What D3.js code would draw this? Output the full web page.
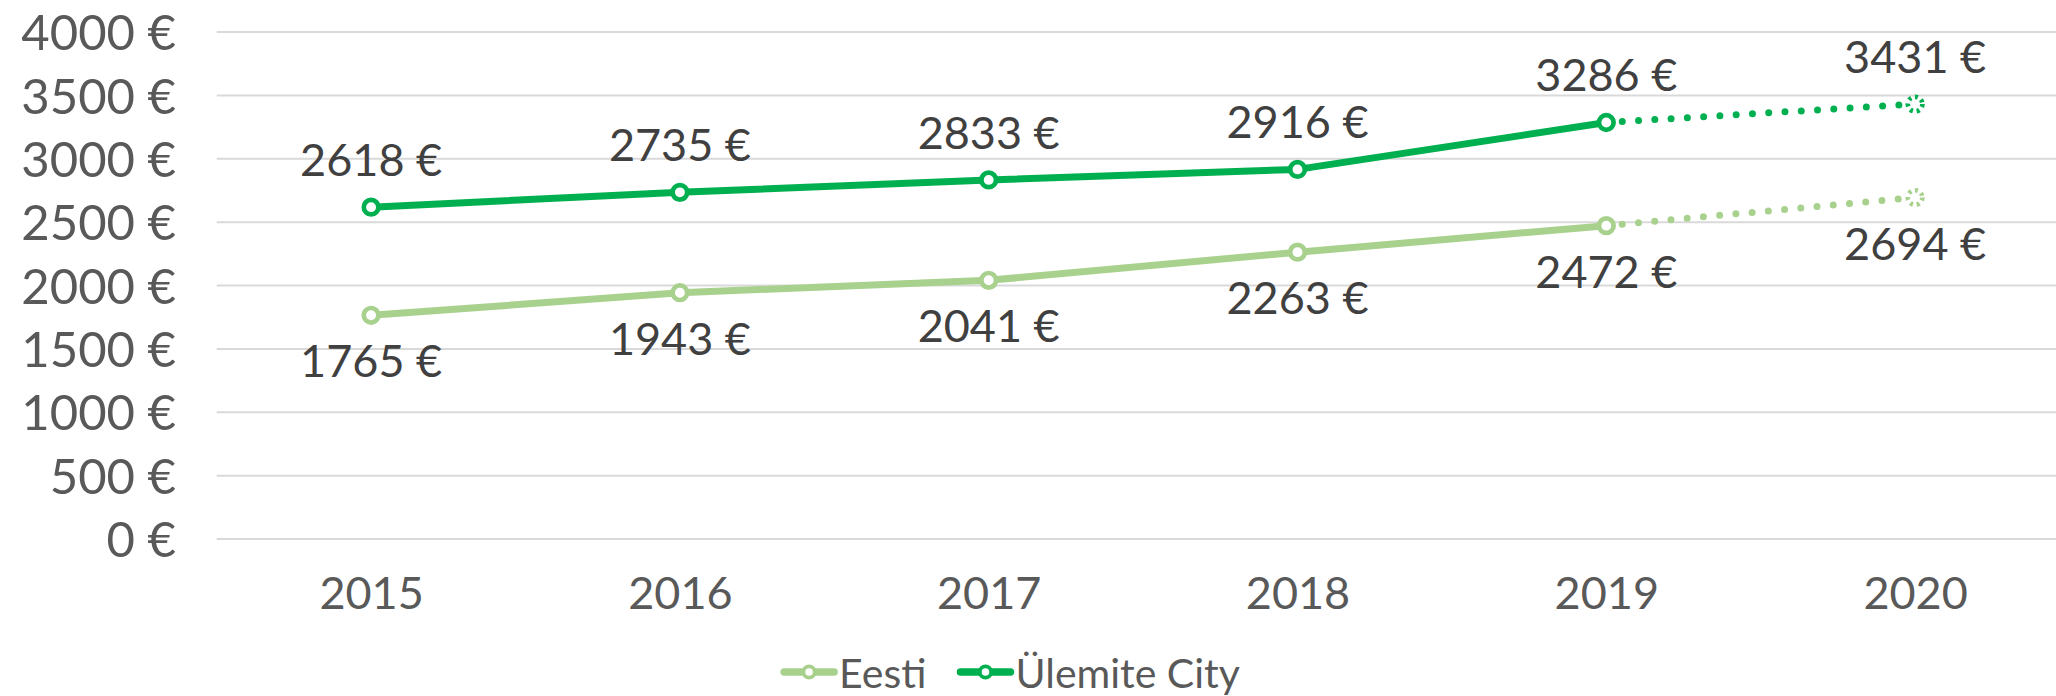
<!DOCTYPE html>
<html>
<head>
<meta charset="utf-8">
<script src="https://cdn.jsdelivr.net/npm/d3@7"></script>
<style>
  body { margin: 0; background: #fff; }
  svg { display: block; }
  text { font-family: Lato, "Noto Sans", sans-serif; }
</style>
</head>
<body>
<svg id="chart" width="2056" height="696"></svg>
<script>
// Average monthly gross wage, actual (2015–2019) and forecast (2020)
const years = ["2015", "2016", "2017", "2018", "2019", "2020"];
const eestiValues = [1765, 1943, 2041, 2263, 2472, 2694];
const ulemiteValues = [2618, 2735, 2833, 2916, 3286, 3431];
const yTickValues = [0, 500, 1000, 1500, 2000, 2500, 3000, 3500, 4000];
const seriesNames = ["Eesti", "Ülemite City"];
const seriesColors = ["#A9D18E", "#00B050"];
const forecastFrom = "2019"; // last actual year; later points are dotted

const series = [
  { name: seriesNames[0], values: eestiValues, color: seriesColors[0], labelPos: "below" },
  { name: seriesNames[1], values: ulemiteValues, color: seriesColors[1], labelPos: "above" }
];

const svg = d3.select("#chart");
const fmt = v => v + " €";

const x = d3.scalePoint().domain(years).range([216.7, 2069.5]).padding(0.5);
const y = d3.scaleLinear().domain([0, 4000]).range([539, 32]);

// Horizontal gridlines
svg.append("g")
  .selectAll("line")
  .data(yTickValues)
  .join("line")
  .attr("x1", 216.7).attr("x2", 2069.5)
  .attr("y1", d => y(d)).attr("y2", d => y(d))
  .attr("stroke", "#D9D9D9").attr("stroke-width", 2);

// Y axis labels
const yAxis = svg.append("g")
  .attr("transform", "translate(176,0)")
  .call(d3.axisLeft(y).tickValues(yTickValues).tickFormat(fmt).tickSize(0).tickPadding(0));
yAxis.select(".domain").remove();
yAxis.selectAll("text")
  .attr("font-size", 49).attr("fill", "#595959")
  .attr("font-family", "Lato, 'Noto Sans', sans-serif")
  .attr("dy", "0.36em");

// X axis labels
const xAxis = svg.append("g")
  .attr("transform", "translate(0,577)")
  .call(d3.axisBottom(x).tickSize(0).tickPadding(0));
xAxis.select(".domain").remove();
xAxis.selectAll("text")
  .attr("font-size", 45).attr("fill", "#595959")
  .attr("font-family", "Lato, 'Noto Sans', sans-serif")
  .attr("dy", "0.72em");

const line = d3.line().x(d => x(d.year)).y(d => y(d.value));
const splitIdx = years.indexOf(forecastFrom);

series.forEach(s => {
  const pts = years.map((yr, i) => ({ year: yr, value: s.values[i] }));
  const g = svg.append("g");

  // actual values: solid line
  g.append("path")
    .datum(pts.slice(0, splitIdx + 1))
    .attr("d", line)
    .attr("fill", "none")
    .attr("stroke", s.color)
    .attr("stroke-width", 7)
    .attr("stroke-linejoin", "round");

  // forecast: round dotted line
  g.append("path")
    .datum(pts.slice(splitIdx))
    .attr("d", line)
    .attr("fill", "none")
    .attr("stroke", s.color)
    .attr("stroke-width", 7)
    .attr("stroke-linecap", "round")
    .attr("stroke-dasharray", "0 16.3")
    .attr("stroke-dashoffset", -16);

  // markers
  g.selectAll("circle")
    .data(pts)
    .join("circle")
    .attr("cx", d => x(d.year))
    .attr("cy", d => y(d.value))
    .attr("r", 7.3)
    .attr("fill", "#fff")
    .attr("stroke", s.color)
    .attr("stroke-width", 4.7)
    .attr("stroke-dasharray", (d, i) => i > splitIdx ? "3 3.8" : null);

  // value labels
  g.selectAll("text")
    .data(pts)
    .join("text")
    .attr("x", d => x(d.year))
    .attr("y", d => s.labelPos === "above" ? y(d.value) - 31 : y(d.value) + 62)
    .attr("text-anchor", "middle")
    .attr("font-size", 45)
    .attr("fill", "#404040")
    .text(d => fmt(d.value));
});

// Legend
const legend = svg.append("g");
let cursor = 0;
series.forEach(s => {
  const item = legend.append("g").attr("transform", `translate(${cursor},0)`);
  item.append("line")
    .attr("x1", 0).attr("x2", 50).attr("y1", 672).attr("y2", 672)
    .attr("stroke", s.color).attr("stroke-width", 7.5).attr("stroke-linecap", "round");
  item.append("circle")
    .attr("cx", 25).attr("cy", 672).attr("r", 5.7)
    .attr("fill", "#fff").attr("stroke", s.color).attr("stroke-width", 3.8);
  const t = item.append("text")
    .attr("x", 55).attr("y", 688)
    .attr("font-size", 41).attr("fill", "#595959")
    .text(s.name);
  cursor += 55 + t.node().getComputedTextLength() + 34;
});
const legendWidth = cursor - 34;
legend.attr("transform", `translate(${1012 - legendWidth / 2},0)`);
</script>
</body>
</html>
